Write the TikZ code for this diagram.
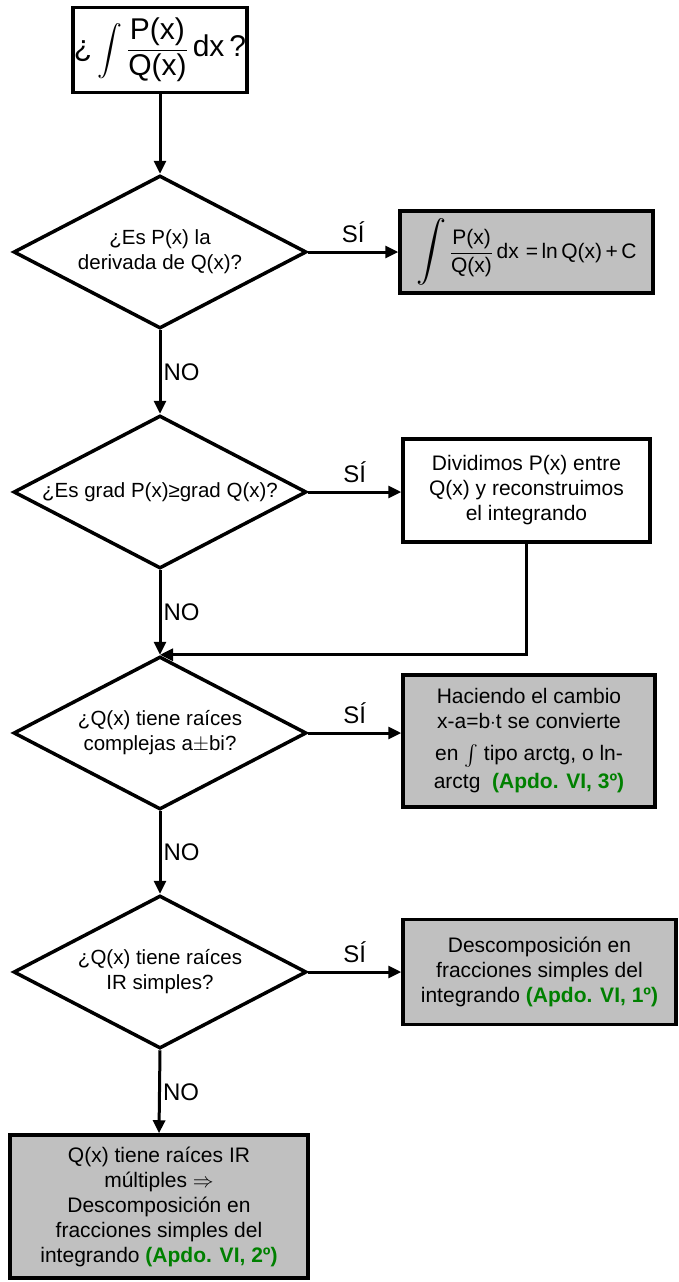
\documentclass[tikz,border=0pt]{standalone}
\usepackage{fontspec}
\setmainfont{Liberation Sans}
\usepackage{amsmath}
\usepackage{graphicx}
\usetikzlibrary{shapes.geometric,arrows.meta}
\definecolor{boxgray}{RGB}{192,192,192}
\definecolor{apdo}{RGB}{0,128,0}
\newcommand{\apdo}[1]{\textcolor{apdo}{\textbf{#1}}}
\newcommand{\bigint}[1]{\scalebox{#1}{$\displaystyle\int$}}
\tikzset{
  conn/.style={line width=3pt, -{Triangle[length=13pt,width=12pt]}},
  decision/.style={diamond, shape aspect=1.92, draw, line width=3.5pt,
    minimum width=293pt, minimum height=153pt, inner sep=1pt, align=center,
    font=\fontsize{20.5}{25}\selectfont},
  procbox/.style={draw, line width=3.5pt, align=center, inner sep=2pt,
    font=\fontsize{21}{25}\selectfont},
  graybox/.style={procbox, fill=boxgray},
  lbl/.style={font=\fontsize{24}{28}\selectfont, inner sep=2pt}
}
\begin{document}
\begin{tikzpicture}[x=1pt,y=-1pt]
\useasboundingbox (0,0) rectangle (678,1282);
% nodes
\node[procbox, minimum width=168pt, minimum height=85pt, inner sep=1pt,
  font=\fontsize{30}{34}\selectfont] (top) at (160,50)
  {¿\,\raisebox{-1pt}{\bigint{1.0}}\,$\displaystyle\frac{\mbox{P(x)}}{\mbox{Q(x)}}$\,dx\,?};
\node[decision] (d1) at (160,252) {¿Es P(x) la\\derivada de Q(x)?};
\node[graybox, minimum width=253pt, minimum height=82pt, inner sep=1pt] (b1) at (526.5,252)
  {\raisebox{-1pt}{\bigint{1.45}}\,$\displaystyle\frac{\mbox{P(x)}}{\mbox{Q(x)}}$\,dx\,\,=\,ln\,Q(x)\,+\,C};
\node[decision] (d2) at (160,492) {¿Es grad P(x)≥grad Q(x)?};
\node[procbox, minimum width=247pt, minimum height=103pt] (b2) at (526.5,490.5)
  {Dividimos P(x) entre\\Q(x) y reconstruimos\\el integrando};
\node[decision] (d3) at (160,733) {¿Q(x) tiene raíces\\complejas a$\pm$bi?};
\node[graybox, minimum width=252pt, minimum height=132pt] (b3) at (529,741)
  {Haciendo el cambio\\x-a=b$\cdot$t se convierte\\[7pt]en $\int$ tipo arctg, o ln-\\[3pt]arctg\ \ \apdo{(Apdo. VI, 3º)}};
\node[decision] (d4) at (160,972) {¿Q(x) tiene raíces\\IR simples?};
\node[graybox, minimum width=273pt, minimum height=105pt] (b4) at (539.5,972)
  {Descomposición en\\fracciones simples del\\integrando \apdo{(Apdo. VI, 1º)}};
\node[graybox, minimum width=298pt, minimum height=143pt] (fin) at (159,1206.5)
  {Q(x) tiene raíces IR\\múltiples $\Rightarrow$\\Descomposición en\\fracciones simples del\\integrando \apdo{(Apdo. VI, 2º)}};
% connectors
\draw[conn] (top.south) -- (d1.north);
\draw[conn] (d1.east) -- node[lbl, above=6pt] {SÍ} (d1.east -| b1.west);
\draw[conn] (d1.south) -- node[lbl, right] {NO} (d2.north);
\draw[conn] (d2.east) -- node[lbl, above=6pt] {SÍ} (d2.east -| b2.west);
\draw[conn] (d2.south) -- node[lbl, right] {NO} (d3.north);
\draw[conn] (b2.south) |- (d3.north);
\draw[conn] (d3.east) -- node[lbl, above=6pt] {SÍ} (d3.east -| b3.west);
\draw[conn] (d3.south) -- node[lbl, right] {NO} (d4.north);
\draw[conn] (d4.east) -- node[lbl, above=6pt] {SÍ} (d4.east -| b4.west);
\draw[conn] (d4.south) -- node[lbl, right] {NO} (fin.north);
\end{tikzpicture}
\end{document}
